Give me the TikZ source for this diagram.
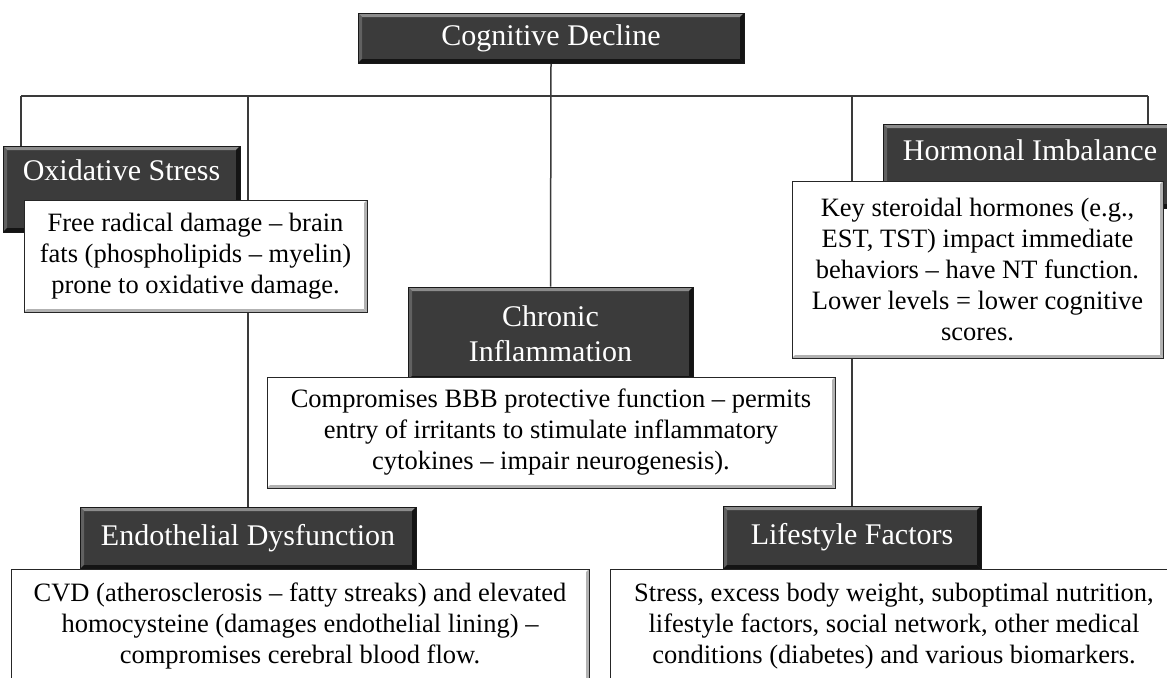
\documentclass[tikz,border=0pt]{standalone}
\usepackage{fontspec}
\setmainfont{Liberation Serif}
\usepackage{tikz}
\usetikzlibrary{calc}
\usetikzlibrary{backgrounds}

\definecolor{headfill}{HTML}{3B3B3B}
\definecolor{linkgray}{HTML}{3A3A3A}

\begin{document}
\begin{tikzpicture}[x=0.5pt,y=-0.5pt,
    head/.style = {draw=black!90, fill=headfill, text=white, line width=0.5pt, align=center,
        font=\fontsize{15}{17.5}\selectfont,
        path picture={
            \fill[black!45] (path picture bounding box.north west) -- (path picture bounding box.north east)
                -- ([shift={(-2pt,-2pt)}]path picture bounding box.north east) -- ([shift={(2pt,-2pt)}]path picture bounding box.north west) -- cycle;
            \fill[black!62] (path picture bounding box.north west) -- ([shift={(2pt,-2pt)}]path picture bounding box.north west)
                -- ([shift={(2pt,2pt)}]path picture bounding box.south west) -- (path picture bounding box.south west) -- cycle;
            \fill[black!92] (path picture bounding box.south west) -- (path picture bounding box.south east)
                -- ([shift={(-2pt,2pt)}]path picture bounding box.south east) -- ([shift={(2pt,2pt)}]path picture bounding box.south west) -- cycle;
            \fill[black!92] (path picture bounding box.north east) -- (path picture bounding box.south east)
                -- ([shift={(-2pt,2pt)}]path picture bounding box.south east) -- ([shift={(-2pt,-2pt)}]path picture bounding box.north east) -- cycle;
        }},
    note/.style = {draw=black!85, fill=white, line width=0.5pt, align=center,
        font=\fontsize{13.25}{15.5}\selectfont,
        path picture={
            \fill[black!30] (path picture bounding box.south west) -- (path picture bounding box.south east)
                -- ([shift={(-1.5pt,1.5pt)}]path picture bounding box.south east) -- ([shift={(1.5pt,1.5pt)}]path picture bounding box.south west) -- cycle;
            \fill[black!30] (path picture bounding box.north east) -- (path picture bounding box.south east)
                -- ([shift={(-1.5pt,1.5pt)}]path picture bounding box.south east) -- ([shift={(-1.5pt,-1.5pt)}]path picture bounding box.north east) -- cycle;
        }},
    link/.style = {draw=linkgray, line width=0.75pt}]
\useasboundingbox (0,0) rectangle (1167,677);

\node[head, minimum width=193pt, minimum height=25pt] (cog) at (551,38) {Cognitive Decline};

\node[head, minimum width=118.5pt, inner ysep=0pt, text height=17pt, text depth=26pt] (ox) at (121.5,189) {Oxidative Stress};
\node[note, minimum width=171.5pt, minimum height=56pt] (oxw) at (195.5,256)
    {Free radical damage -- brain\\fats (phospholipids -- myelin)\\prone to oxidative damage.};

\node[head, minimum width=147pt, inner ysep=0pt, text height=18pt, text depth=24pt] (hor) at (1030,166) {Hormonal Imbalance};
\node[note, minimum width=185.5pt, minimum height=88.5pt] (horw) at (977.5,269.5)
    {Key steroidal hormones (e.g.,\\EST, TST) impact immediate\\behaviors -- have NT function.\\Lower levels = lower cognitive\\scores.};

\node[head, minimum width=142.5pt, minimum height=46.5pt] (chr) at (550.5,333.5) {Chronic\\Inflammation};
\node[note, minimum width=284pt, minimum height=55.5pt] (chrw) at (551,432.5)
    {Compromises BBB protective function -- permits\\entry of irritants to stimulate inflammatory\\cytokines -- impair neurogenesis).};

\node[head, minimum width=168pt, minimum height=31pt] (endo) at (248,538) {Endothelial Dysfunction};
\node[note, minimum width=289pt, minimum height=57pt] (endw) at (300,626)
    {CVD (atherosclerosis -- fatty streaks) and elevated\\homocysteine (damages endothelial lining) --\\compromises cerebral blood flow.};

\node[head, minimum width=129pt, minimum height=31.5pt] (life) at (852,537.5) {Lifestyle Factors};
\node[note, minimum width=284pt, minimum height=57pt] (lifw) at (894,626)
    {Stress, excess body weight, suboptimal nutrition,\\lifestyle factors, social network, other medical\\conditions (diabetes) and various biomarkers.};

\coordinate (barL) at (21,96);
\coordinate (barR) at (1148,96);
\begin{scope}[on background layer]
\draw[link] (barL) -- (barR);
\draw[link] (barL) -- (barL |- ox.north);
\draw[link] (barR) -- (barR |- hor.north);
\draw[link] (cog.south) -- (chr.north);
\draw[link] (endo.north) -- (endo.north |- barL);
\draw[link] (life.north) -- (life.north |- barL);
\end{scope}
\end{tikzpicture}
\end{document}
